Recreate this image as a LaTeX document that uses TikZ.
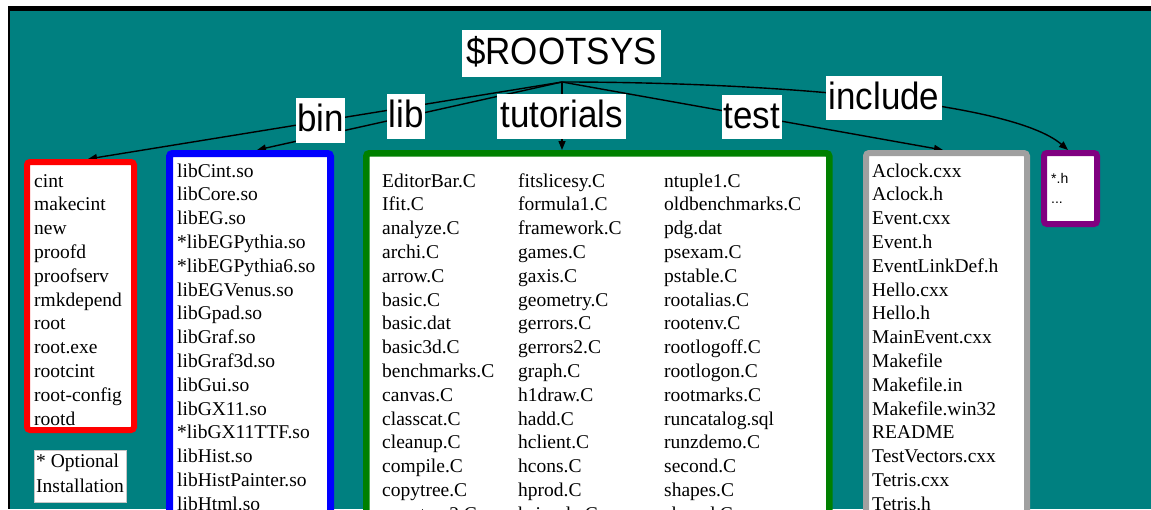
\documentclass[tikz,border=0pt]{standalone}
\usepackage{fontspec}
\setmainfont{Liberation Serif}
\newfontfamily\labelfont[FakeStretch=0.92]{Liberation Sans}
\newfontfamily\smallsans{Liberation Sans}
\usetikzlibrary{arrows.meta}
\pgfdeclarelayer{bg}
\pgfsetlayers{bg,main}
\definecolor{rootteal}{HTML}{008080}
\definecolor{boxred}{HTML}{FF0000}
\definecolor{boxblue}{HTML}{0000FF}
\definecolor{boxgreen}{HTML}{008000}
\definecolor{boxgray}{HTML}{A0A0A0}
\definecolor{boxpurple}{HTML}{800080}
\tikzset{
  labelbox/.style={fill=white, inner sep=0pt, font=\labelfont\fontsize{38}{40}\selectfont, text height=28pt, text depth=6pt},
  listbox/.style={rectangle, rounded corners=3pt, fill=white, inner sep=0pt, anchor=north west},
  item/.style={anchor=base west, inner sep=0pt, font=\fontsize{19.5}{22}\selectfont},
  smallitem/.style={anchor=base west, inner sep=0pt, font=\smallsans\fontsize{14}{16}\selectfont},
  conn/.style={line width=1.4pt, -{Triangle[length=9pt,width=7pt]}}
}
\begin{document}
\begin{tikzpicture}[x=1pt,y=-1pt]
\useasboundingbox (0,0) rectangle (1151,509);
\clip (0,0) rectangle (1151,509);
\begin{pgfonlayer}{bg}
  \fill[white] (0,0) rectangle (1151,509);
  \fill[black] (8,6) rectangle (1151,509);
  \fill[rootteal] (10,11) rectangle (1151,509);
\end{pgfonlayer}

% labels
\node[labelbox, minimum width=199pt, minimum height=47pt] (root) at (561.5,53.5) {\$ROOTSYS};
\coordinate (hub) at (562,82);
\node[labelbox, minimum width=49pt, minimum height=45pt] (binlbl) at (320.5,120) {bin};
\node[labelbox, minimum width=38pt, minimum height=45pt] (liblbl) at (406,116.5) {lib};
\node[labelbox, minimum width=129pt, minimum height=45pt] (tutlbl) at (561.5,116.5) {tutorials};
\node[labelbox, minimum width=60pt, minimum height=44pt] (testlbl) at (752,117) {test};
\node[labelbox, minimum width=116pt, minimum height=44pt] (inclbl) at (884,98) {include};

% boxes
\node[listbox, draw=boxred, line width=6pt, minimum width=107pt, minimum height=268pt] (binbox) at (24,159) {};
\node[listbox, draw=boxblue, line width=7pt, minimum width=161pt, minimum height=420pt] (libbox) at (166,150) {};
\node[listbox, draw=boxgreen, line width=6.5pt, minimum width=463pt, minimum height=420pt] (tutbox) at (363,150) {};
\node[listbox, draw=boxgray, line width=6pt, minimum width=161pt, minimum height=420pt] (testbox) at (863,150) {};
\node[listbox, draw=boxpurple, line width=6pt, minimum width=53pt, minimum height=71pt] (incbox) at (1041,150) {};
\node[fill=white, draw=gray!45, line width=0.8pt, anchor=north west, inner sep=0pt, minimum width=92pt, minimum height=52pt] (optbox) at (34,450) {};

% list contents
\foreach \t [count=\i from 0] in {cint,makecint,new,proofd,proofserv,rmkdepend,root,root.exe,rootcint,root-config,rootd}
  \node[item] (bin\i) at (34,{187+23.8*\i}) {\t};
\foreach \t [count=\i from 0] in {libCint.so,libCore.so,libEG.so,*libEGPythia.so,*libEGPythia6.so,libEGVenus.so,libGpad.so,libGraf.so,libGraf3d.so,libGui.so,libGX11.so,*libGX11TTF.so,libHist.so,libHistPainter.so,libHtml.so}
  \node[item] (lib\i) at (177,{177+23.8*\i}) {\t};
\foreach \t [count=\i from 0] in {EditorBar.C,Ifit.C,analyze.C,archi.C,arrow.C,basic.C,basic.dat,basic3d.C,benchmarks.C,canvas.C,classcat.C,cleanup.C,compile.C,copytree.C,copytree2.C}
  \node[item] (tutA\i) at (382,{187+23.8*\i}) {\t};
\foreach \t [count=\i from 0] in {fitslicesy.C,formula1.C,framework.C,games.C,gaxis.C,geometry.C,gerrors.C,gerrors2.C,graph.C,h1draw.C,hadd.C,hclient.C,hcons.C,hprod.C,hsimple.C}
  \node[item] (tutB\i) at (518,{187+23.8*\i}) {\t};
\foreach \t [count=\i from 0] in {ntuple1.C,oldbenchmarks.C,pdg.dat,psexam.C,pstable.C,rootalias.C,rootenv.C,rootlogoff.C,rootlogon.C,rootmarks.C,runcatalog.sql,runzdemo.C,second.C,shapes.C,shared.C}
  \node[item] (tutC\i) at (664,{187+23.8*\i}) {\t};
\foreach \t [count=\i from 0] in {Aclock.cxx,Aclock.h,Event.cxx,Event.h,EventLinkDef.h,Hello.cxx,Hello.h,MainEvent.cxx,Makefile,Makefile.in,Makefile.win32,README,TestVectors.cxx,Tetris.cxx,Tetris.h}
  \node[item] (test\i) at (872,{177+23.8*\i}) {\t};
\node[smallitem] (inc0) at (1051,183) {*.h};
\node[smallitem] (inc1) at (1051,203) {...};
\node[item] (opt0) at (36,467) {* Optional};
\node[item] (opt1) at (36,492) {Installation};

% connectors
\begin{pgfonlayer}{bg}
  \draw[conn] (hub) -- ([xshift=7.5pt]binbox.north);
  \draw[conn] (hub) -- ([xshift=7pt]libbox.north);
  \draw[conn] (hub) -- (hub |- tutbox.north);
  \draw[conn] (hub) -- ([xshift=-3.5pt]testbox.north);
  \draw[conn] (hub) .. controls (760,82) and (1010,100) .. ([xshift=-2.5pt]incbox.north);
\end{pgfonlayer}
\end{tikzpicture}
\end{document}
